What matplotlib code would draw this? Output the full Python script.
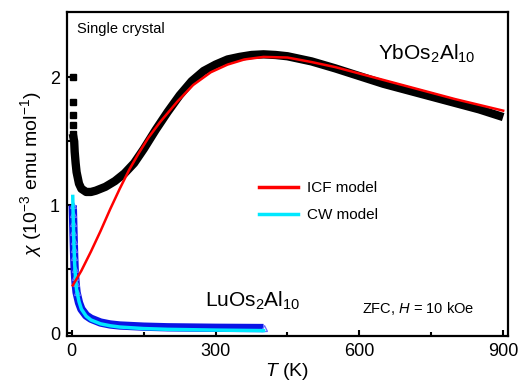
import matplotlib
matplotlib.use("Agg")
import matplotlib.pyplot as plt
from matplotlib.lines import Line2D

plt.rcParams['font.family'] = ['Liberation Sans', 'DejaVu Sans']
plt.rcParams['mathtext.fontset'] = 'custom'
plt.rcParams['mathtext.rm'] = 'Liberation Sans'
plt.rcParams['mathtext.it'] = 'Liberation Sans:italic'
plt.rcParams['mathtext.bf'] = 'Liberation Sans:bold'

# YbOs2Al10 measured data
yb_T = [5, 6, 8, 10, 15, 20, 30, 40, 50, 70, 90, 110, 130, 150, 175, 200, 225, 250,
        275, 300, 325, 350, 375, 400, 425, 450, 500, 550, 600, 650, 700, 750, 800, 850, 900]
yb_chi = [1.50, 1.42, 1.33, 1.26, 1.17, 1.13, 1.105, 1.105, 1.115, 1.145, 1.19, 1.25, 1.33,
          1.44, 1.59, 1.73, 1.86, 1.97, 2.05, 2.10, 2.14, 2.16, 2.175, 2.18, 2.175, 2.165,
          2.125, 2.07, 2.01, 1.95, 1.90, 1.85, 1.80, 1.75, 1.69]
yb_lowT = [2, 2, 2, 2, 2]
yb_lowchi = [2.00, 1.81, 1.71, 1.63, 1.56]

# ICF model
icf_T = [2, 20, 40, 60, 80, 100, 120, 140, 160, 184, 220, 253, 290, 325, 360, 400, 450,
         500, 550, 600, 650, 700, 750, 800, 850, 900]
icf_chi = [0.375, 0.49, 0.64, 0.80, 0.97, 1.13, 1.28, 1.41, 1.53, 1.65, 1.81, 1.94, 2.04,
           2.10, 2.14, 2.16, 2.155, 2.12, 2.08, 2.03, 1.98, 1.93, 1.88, 1.83, 1.785, 1.74]

# LuOs2Al10 measured data
lu_T = [2, 2.5, 3, 3.5, 4, 4.5, 5, 6, 7, 8, 10, 15, 20, 30, 40, 60, 80, 100, 150, 200, 300, 400]
lu_chi = [1.00, 0.93, 0.86, 0.79, 0.72, 0.66, 0.60, 0.50, 0.44, 0.39, 0.32, 0.24, 0.19, 0.14,
          0.115, 0.085, 0.07, 0.062, 0.053, 0.048, 0.044, 0.042]

# CW model
cw_T = [2, 3, 4, 5, 6, 8, 10, 15, 20, 30, 40, 60, 80, 100, 150, 200, 300, 400]
cw_chi = [1.07, 0.90, 0.76, 0.64, 0.54, 0.42, 0.34, 0.25, 0.19, 0.135, 0.105, 0.075, 0.06,
          0.05, 0.038, 0.032, 0.026, 0.022]

fig = plt.figure(figsize=(5.21, 3.90), dpi=100)
ax = fig.add_axes([0.1286, 0.1385, 0.8464, 0.8305])

# Lu data: thick blue band + triangles at low T
ax.plot(lu_T, lu_chi, color='#0a14e6', lw=6, solid_capstyle='butt', zorder=2)
ax.plot(lu_T[:11], lu_chi[:11], ls='none', marker='^', ms=5, mfc='none', mec='#6a6aff',
        mew=0.9, zorder=3)
ax.plot(lu_T[-1:], lu_chi[-1:], ls='none', marker='^', ms=5, mfc='white', mec='#6a6aff',
        mew=0.9, zorder=3)
ax.plot(cw_T, cw_chi, color='#00e8ff', lw=2.5, zorder=4)

# Yb data: thick black band + low-T squares
ax.plot([yb_lowT[-1]] + yb_T, [yb_lowchi[-1]] + yb_chi, color='black', lw=6,
        solid_capstyle='butt', solid_joinstyle='round', zorder=5)
ax.plot(yb_lowT, yb_lowchi, ls='none', marker='s', ms=5, color='black', zorder=5)
ax.plot(icf_T, icf_chi, color='#ff0000', lw=1.8, zorder=6)

ax.set_xlim(-10, 910)
ax.set_ylim(-0.02, 2.51)
ax.set_xticks([0, 300, 600, 900])
ax.set_xticks([150, 450, 750], minor=True)
ax.set_yticks([0, 1, 2])
ax.set_yticks([0.5, 1.5], minor=True)
ax.tick_params(which='both', direction='in', labelsize=13, width=1.5)
ax.tick_params(which='major', length=4.5, pad=5)
ax.tick_params(which='minor', length=3)
for s in ax.spines.values():
    s.set_linewidth(1.6)

ax.set_xlabel(r'$T$ (K)', fontsize=14, labelpad=1)
ax.set_ylabel(r'$\chi$ (10$^{-3}$ emu mol$^{-1}$)', fontsize=14, labelpad=4)

ax.text(0.023, 0.935, 'Single crystal', transform=ax.transAxes, fontsize=10.5, va='baseline')
ax.text(0.705, 0.852, r'YbOs$_2$Al$_{10}$', transform=ax.transAxes, fontsize=15, va='baseline')
ax.text(0.313, 0.0895, r'LuOs$_2$Al$_{10}$', transform=ax.transAxes, fontsize=15, va='baseline')
ax.text(0.669, 0.071, r'ZFC, $H$ = 10 kOe', transform=ax.transAxes, fontsize=10.5, va='baseline')

handles = [Line2D([], [], color='#ff0000', lw=2.5), Line2D([], [], color='#00e8ff', lw=2.5)]
ax.legend(handles, ['ICF model', 'CW model'], loc='upper left', bbox_to_anchor=(0.405, 0.52),
          frameon=False, fontsize=11, handlelength=2.5, handletextpad=0.6, labelspacing=0.85)

fig.savefig('out.png', dpi=100)
